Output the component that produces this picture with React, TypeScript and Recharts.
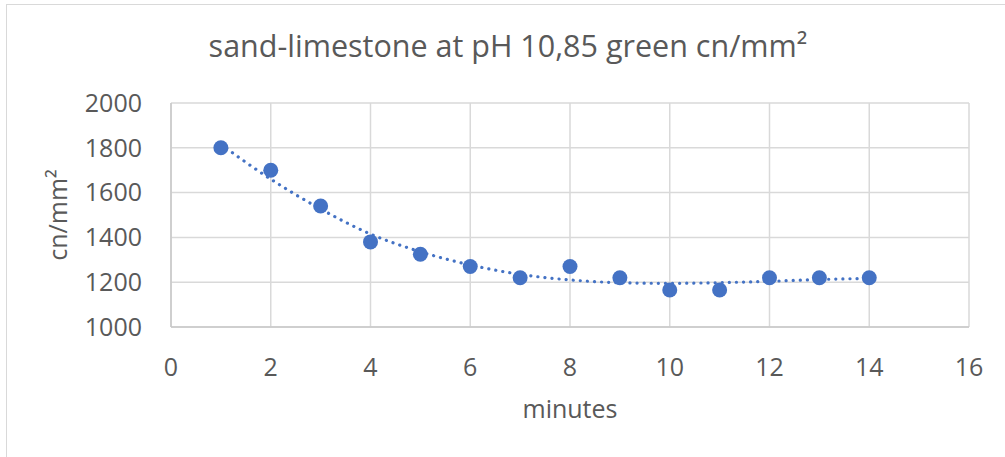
import { ComposedChart, CartesianGrid, Line, Scatter, XAxis, YAxis } from "recharts";

const minutes = [1, 2, 3, 4, 5, 6, 7, 8, 9, 10, 11, 12, 13, 14];
const strength = [1800, 1700, 1540, 1380, 1325, 1270, 1220, 1270, 1220, 1165, 1165, 1220, 1220, 1220];
// dotted polynomial trendline
const trend = [1815, 1660, 1527, 1415, 1336, 1277, 1235, 1210, 1198, 1195, 1198, 1204, 1212, 1217];
const xTicks = [0, 2, 4, 6, 8, 10, 12, 14, 16];
const yTicks = [1000, 1200, 1400, 1600, 1800, 2000];

const BLUE = "#4472C4";
const TEXT = "#595959";
const FONT = "'Open Sans', sans-serif";

const points = minutes.map((x, i) => ({ x, y: strength[i] }));
const trendPoints = minutes.map((x, i) => ({ x, y: trend[i] }));

const Dot = (props: any) => <circle cx={props.cx} cy={props.cy} r={7.5} fill={BLUE} />;

export default function App() {
  return (
    <div
      style={{
        position: "fixed",
        left: 0,
        top: 0,
        width: 1005,
        height: 457,
        overflow: "hidden",
        background: "#fff",
        fontFamily: FONT,
      }}
    >
      <div
        style={{
          position: "absolute",
          left: 6,
          top: 4,
          width: 1020,
          height: 470,
          border: "1.5px solid #d9d9d9",
        }}
      />
      <div
        style={{
          position: "absolute",
          left: 0,
          width: 1016,
          top: 25,
          textAlign: "center",
          fontSize: 30.5,
          color: TEXT,
          lineHeight: "40px",
        }}
      >
        sand-limestone at pH 10,85 green cn/mm²
      </div>
      <div
        style={{
          position: "absolute",
          left: 57 - 100,
          top: 215 - 16,
          width: 200,
          height: 32,
          textAlign: "center",
          fontSize: 25,
          lineHeight: "32px",
          color: TEXT,
          transform: "rotate(-90deg)",
        }}
      >
        cn/mm²
      </div>
      <div
        style={{
          position: "absolute",
          left: 570 - 100,
          width: 200,
          top: 392,
          textAlign: "center",
          fontSize: 25,
          lineHeight: "32px",
          color: TEXT,
        }}
      >
        minutes
      </div>
      <div style={{ position: "absolute", left: 0, top: 0 }}>
        <ComposedChart
          width={1005}
          height={457}
          margin={{ top: 103, right: 36, bottom: 100, left: 111 }}
        >
          <CartesianGrid stroke="#d9d9d9" strokeWidth={1.5} />
          <XAxis
            dataKey="x"
            type="number"
            domain={[0, 16]}
            ticks={xTicks}
            height={30}
            axisLine={{ stroke: "#c8c8c8", strokeWidth: 1.5 }}
            tickLine={false}
            tickSize={0}
            tickMargin={31}
            tick={{ fill: TEXT, fontSize: 25, fontFamily: FONT }}
            interval={0}
          />
          <YAxis
            dataKey="y"
            type="number"
            domain={[1000, 2000]}
            ticks={yTicks}
            width={60}
            axisLine={{ stroke: "#c8c8c8", strokeWidth: 1.5 }}
            tickLine={false}
            tickSize={0}
            tickMargin={29}
            tick={{ fill: TEXT, fontSize: 25, fontFamily: FONT }}
            interval={0}
          />
          <Line
            data={trendPoints}
            dataKey="y"
            type="monotone"
            stroke={BLUE}
            strokeWidth={3.2}
            strokeDasharray="0.1 7"
            strokeLinecap="round"
            dot={false}
            activeDot={false}
            isAnimationActive={false}
          />
          <Scatter data={points} dataKey="y" fill={BLUE} shape={Dot} isAnimationActive={false} />
        </ComposedChart>
      </div>
    </div>
  );
}
